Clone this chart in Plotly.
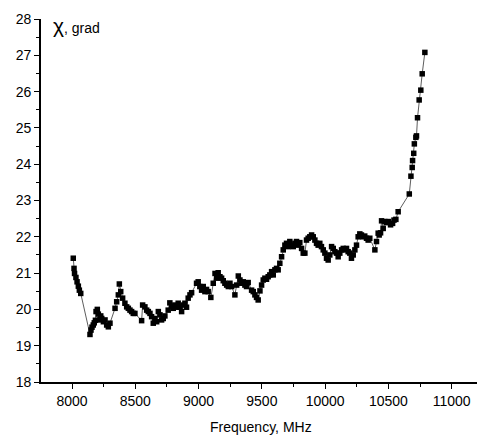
import plotly.graph_objects as go

freq = [8010, 8016, 8020, 8031, 8040, 8050, 8058, 8069,
        8142, 8150, 8158, 8168, 8176, 8185, 8190, 8200, 8208, 8216, 8227, 8235, 8248, 8261, 8274, 8287, 8300,
        8340, 8353, 8366, 8374, 8385, 8400, 8418, 8432, 8445, 8458, 8471, 8484, 8497,
        8550, 8558, 8576, 8590, 8603, 8616, 8629, 8642, 8655, 8669, 8682, 8695, 8708, 8721, 8734,
        8760, 8773, 8787, 8800, 8813, 8826, 8839, 8853, 8866, 8879, 8892, 8905, 8918, 8932, 8945,
        8984, 8997, 9010, 9024, 9037, 9050, 9063, 9076, 9097, 9116, 9130, 9143, 9155, 9169, 9182,
        9195, 9208, 9222, 9235, 9248, 9261, 9287, 9301, 9314, 9327, 9340, 9353, 9366, 9379, 9392,
        9419, 9432, 9445, 9458, 9471, 9485, 9498, 9511, 9524, 9537, 9550, 9563, 9577, 9590,
        9603, 9616, 9629, 9642, 9656, 9669, 9682, 9695, 9708, 9721, 9735, 9748, 9761, 9774, 9787,
        9800, 9814, 9827, 9840, 9853, 9866, 9879, 9893, 9906, 9919, 9932, 9945, 9958, 9971, 9985,
        9998, 10011, 10024, 10037, 10051, 10064, 10077, 10090, 10103, 10116, 10130, 10143, 10156,
        10169, 10182, 10195, 10208, 10222, 10235, 10248, 10261, 10274, 10287, 10300, 10313, 10327,
        10340, 10353, 10393, 10406, 10419, 10427, 10438, 10446, 10459, 10472, 10486, 10499, 10517,
        10533, 10544, 10559, 10577, 10665, 10678, 10688, 10691, 10700, 10705, 10717, 10722, 10730,
        10743, 10756, 10767, 10788]

chi = [21.41, 21.13, 20.99, 20.88, 20.76, 20.64, 20.53, 20.44,
       19.31, 19.43, 19.51, 19.57, 19.63, 19.70, 19.94, 20.00, 19.87, 19.71, 19.82, 19.75, 19.66, 19.71, 19.57, 19.52, 19.62,
       20.03, 20.21, 20.40, 20.70, 20.49, 20.31, 20.17, 20.07, 20.03, 19.98, 19.94, 19.89, 19.89,
       19.69, 20.12, 20.07, 19.98, 19.94, 19.89, 19.80, 19.62, 19.75, 19.66, 19.94, 19.85, 19.71, 19.75, 19.82,
       19.98, 20.18, 20.09, 20.03, 20.12, 20.06, 20.17, 20.06, 19.94, 20.12, 20.17, 20.06, 20.31, 20.40, 20.46,
       20.72, 20.76, 20.63, 20.53, 20.63, 20.49, 20.55, 20.49, 20.33, 20.72, 20.99, 20.86, 21.01, 20.90, 20.86,
       20.79, 20.72, 20.67, 20.63, 20.72, 20.63, 20.40, 20.67, 20.92, 20.81, 20.72, 20.76, 20.67, 20.63, 20.74,
       20.53, 20.49, 20.40, 20.33, 20.26, 20.51, 20.67, 20.81, 20.86, 20.83, 20.90, 20.95, 21.04, 20.95,
       21.09, 21.13, 21.09, 21.27, 21.45, 21.64, 21.77, 21.82, 21.73, 21.87, 21.77, 21.73, 21.82, 21.87, 21.77,
       21.84, 21.68, 21.55, 21.55, 21.91, 21.96, 22.00, 22.05, 22.00, 21.91, 21.82, 21.77, 21.82, 21.73, 21.64,
       21.55, 21.41, 21.36, 21.50, 21.73, 21.68, 21.59, 21.55, 21.45, 21.55, 21.64, 21.68, 21.64,
       21.68, 21.59, 21.55, 21.41, 21.50, 21.64, 21.77, 22.00, 22.08, 22.05, 22.00, 22.02, 21.96,
       21.91, 21.96, 21.64, 21.87, 22.10, 22.05, 22.11, 22.44, 22.23, 22.42, 22.39, 22.42, 22.33,
       22.37, 22.46, 22.48, 22.69, 23.18, 23.67, 23.91, 24.10, 24.30, 24.56, 24.74, 24.78, 25.28,
       25.77, 26.04, 26.49, 27.08]

fig = go.Figure()
fig.add_trace(go.Scatter(
    x=freq, y=chi, mode="lines+markers",
    line=dict(color="#333333", width=0.8),
    marker=dict(symbol="square", size=5.5, color="black", line=dict(width=0)),
    showlegend=False,
))

font_family = "Liberation Sans, Arial, sans-serif"
fig.update_layout(
    width=477, height=435,
    margin=dict(l=41, r=0, t=19, b=53),
    paper_bgcolor="white", plot_bgcolor="white",
    font=dict(family=font_family, size=14, color="black"),
    xaxis=dict(
        range=[7755, 11200], showgrid=False, zeroline=False,
        showline=True, linecolor="black", linewidth=1.6,
        ticks="outside", ticklen=5, tickwidth=1.2, tickcolor="black",
        tick0=8000, dtick=500, tickformat="d",
        minor=dict(ticks="outside", ticklen=3, dtick=250, tick0=8000, tickcolor="black", showgrid=False),
        tickfont=dict(size=14), automargin=False,
    ),
    yaxis=dict(
        range=[18, 28], showgrid=False, zeroline=False,
        showline=True, linecolor="black", linewidth=1.6,
        ticks="outside", ticklen=5, tickwidth=1.2, tickcolor="black",
        tick0=18, dtick=1, tickformat="d",
        minor=dict(ticks="outside", ticklen=3, dtick=0.5, tick0=18, tickcolor="black", showgrid=False),
        tickfont=dict(size=14), automargin=False,
    ),
    annotations=[
        dict(text="Frequency, MHz", xref="paper", yref="paper", x=0.505, y=-0.125,
             xanchor="center", yanchor="middle", showarrow=False, font=dict(size=14)),
        dict(text="<span style='font-size:21px'>χ</span>, grad", xref="paper", yref="paper",
             x=0.023, y=0.983, xanchor="left", yanchor="middle", showarrow=False,
             font=dict(size=14)),
    ],
)

fig.write_html("out.html")
